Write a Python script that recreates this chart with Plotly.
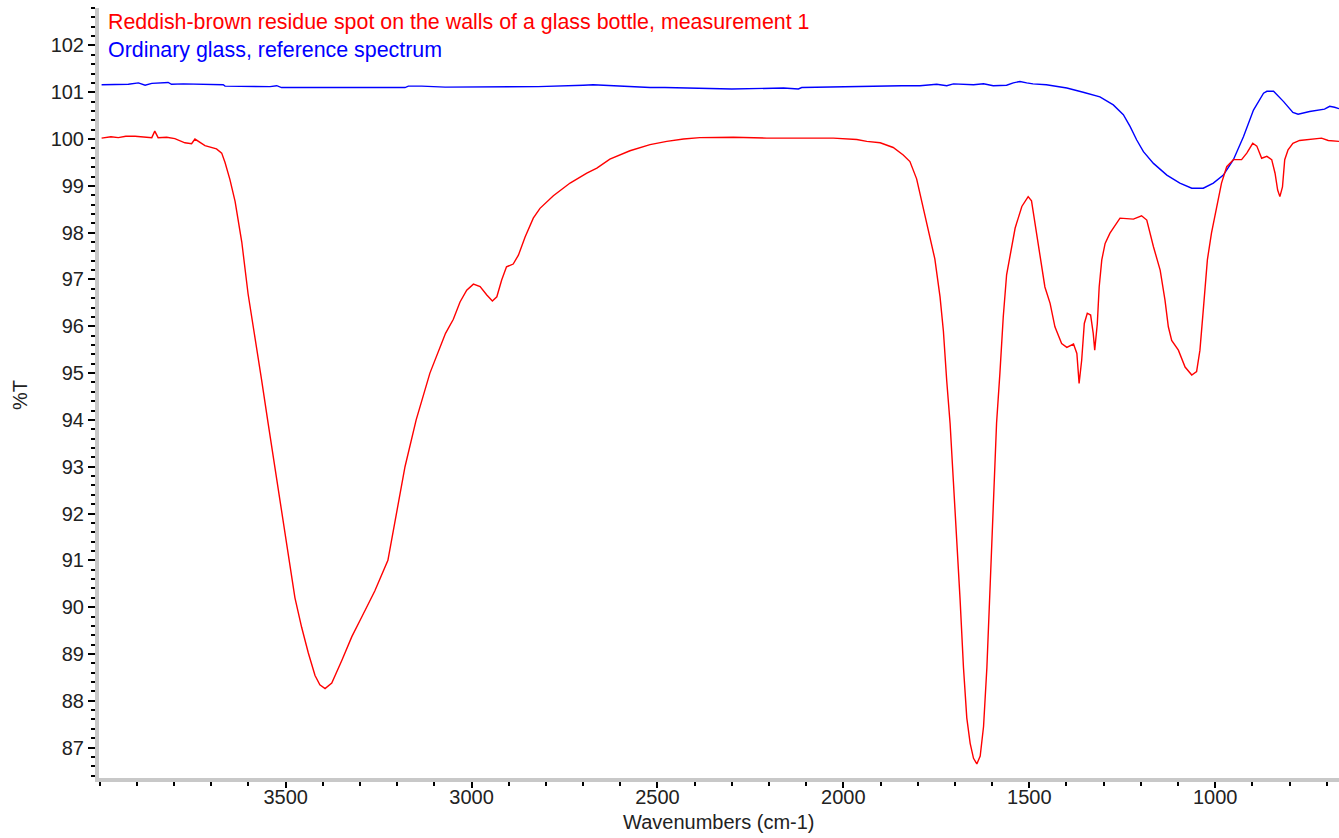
import plotly.graph_objects as go

# Reddish-brown residue spectrum (wavenumber cm-1, %T)
red_wn = [3995, 3970, 3950, 3930, 3905, 3880, 3860, 3852, 3843, 3820, 3798, 3771, 3753, 3744, 3717,
          3686, 3672, 3663, 3650, 3636, 3618, 3601, 3583, 3565, 3547, 3529, 3511, 3493, 3475, 3457,
          3439, 3421, 3408, 3394, 3376, 3349, 3322, 3296, 3260, 3225, 3203, 3179, 3149, 3112, 3070,
          3049, 3031, 3013, 2995, 2977, 2959, 2944, 2932, 2919, 2906, 2888, 2874, 2856, 2834,
          2816, 2780, 2735, 2690, 2663, 2628, 2601, 2574, 2520, 2475, 2430, 2386, 2296, 2206, 2117,
          2027, 1964, 1937, 1901, 1866, 1839, 1821, 1803, 1785, 1767, 1754, 1740, 1731, 1722, 1713,
          1704, 1695, 1686, 1677, 1668, 1659, 1650, 1641, 1632, 1623, 1614, 1605, 1597, 1588, 1579,
          1570, 1561, 1552, 1538, 1520, 1503, 1494, 1485, 1471, 1458, 1444, 1431, 1413, 1399, 1381,
          1372, 1366, 1359, 1352, 1344, 1335, 1328, 1324, 1317, 1312, 1305, 1296, 1283, 1256, 1220,
          1198, 1184, 1166, 1148, 1135, 1126, 1117, 1099, 1081, 1063, 1050, 1041, 1032, 1021, 1010,
          996, 983, 969, 951, 929, 915, 899, 888, 875, 861, 848, 839, 832, 826, 819,
          813, 804, 791, 773, 746, 714, 696, 667]
red_t = [100.02, 100.05, 100.03, 100.06, 100.06, 100.04, 100.03, 100.17, 100.03, 100.04, 100.01, 99.92, 99.90, 100.00, 99.86,
         99.79, 99.70, 99.50, 99.14, 98.67, 97.80, 96.69, 95.82, 94.87, 93.92, 92.97, 92.02, 91.07, 90.20, 89.57,
         89.02, 88.54, 88.34, 88.26, 88.38, 88.86, 89.37, 89.78, 90.35, 91.00, 91.95, 93.00, 94.00, 95.00, 95.85,
         96.15, 96.52, 96.77, 96.90, 96.85, 96.67, 96.54, 96.63, 96.99, 97.27, 97.33, 97.52, 97.91, 98.31,
         98.52, 98.79, 99.06, 99.27, 99.38, 99.57, 99.66, 99.75, 99.88, 99.95, 100.00, 100.03, 100.04, 100.02, 100.02,
         100.02, 99.99, 99.95, 99.92, 99.82, 99.66, 99.52, 99.15, 98.54, 97.95, 97.44, 96.63, 95.90, 94.83, 93.93,
         92.67, 91.50, 90.15, 88.71, 87.63, 87.09, 86.77, 86.65, 86.82, 87.45, 88.71, 90.51, 92.31, 93.93, 95.00,
         96.20, 97.10, 97.50, 98.10, 98.56, 98.77, 98.68, 98.22, 97.47, 96.84, 96.49, 95.99, 95.63, 95.55, 95.62,
         95.42, 94.78, 95.28, 96.06, 96.28, 96.24, 95.85, 95.49, 96.06, 96.84, 97.42, 97.77, 97.99, 98.31, 98.29,
         98.36, 98.27, 97.70, 97.20, 96.56, 95.99, 95.70, 95.49, 95.13, 94.96, 95.03, 95.49, 96.35, 97.42, 97.99,
         98.56, 99.06, 99.41, 99.56, 99.56, 99.70, 99.91, 99.85, 99.59, 99.63, 99.56, 99.27, 98.91, 98.77, 98.98,
         99.56, 99.77, 99.91, 99.97, 100.00, 100.02, 99.97, 99.95]

# Ordinary glass reference spectrum
blue_wn = [3995, 3923, 3896, 3878, 3860, 3834, 3816, 3807, 3775, 3668, 3663, 3542, 3524, 3511, 3439,
           3421, 3417, 3179, 3170, 3134, 3071, 2821, 2749, 2699, 2673, 2632, 2520, 2480, 2300, 2161,
           2121, 2112, 1996, 1973, 1843, 1794, 1749, 1722, 1704, 1650, 1623, 1597, 1561, 1543, 1525,
           1507, 1490, 1454, 1418, 1399, 1355, 1310, 1274, 1247, 1229, 1211, 1193, 1166, 1130, 1095,
           1063, 1032, 1005, 978, 951, 924, 897, 870, 861, 843, 816, 791, 777, 746, 706,
           692, 679, 667]
blue_t = [101.16, 101.17, 101.20, 101.15, 101.19, 101.21, 101.21, 101.17, 101.18, 101.16, 101.13, 101.12, 101.14, 101.10, 101.09,
          101.09, 101.10, 101.10, 101.13, 101.13, 101.11, 101.12, 101.13, 101.15, 101.16, 101.14, 101.10, 101.10, 101.07, 101.09,
          101.07, 101.10, 101.12, 101.13, 101.14, 101.14, 101.17, 101.14, 101.18, 101.16, 101.18, 101.14, 101.15, 101.20, 101.23,
          101.20, 101.18, 101.16, 101.11, 101.09, 101.00, 100.90, 100.73, 100.52, 100.27, 99.98, 99.73, 99.48, 99.23, 99.06,
          98.95, 98.95, 99.06, 99.23, 99.56, 100.05, 100.62, 100.98, 101.02, 101.02, 100.80, 100.57, 100.53, 100.59, 100.64,
          100.70, 100.68, 100.65]

x_tick_vals = [3500, 3000, 2500, 2000, 1500, 1000]
red_name = "Reddish-brown residue spot on the walls of a glass bottle, measurement 1"
blue_name = "Ordinary glass, reference spectrum"
x_title = "Wavenumbers (cm-1)"
y_title = "%T"

FONT = "Liberation Sans, Arial, sans-serif"
fig = go.Figure()
fig.add_trace(go.Scatter(x=blue_wn, y=blue_t, mode="lines", name=blue_name,
                         line=dict(color="#0000ff", width=1.4)))
fig.add_trace(go.Scatter(x=red_wn, y=red_t, mode="lines", name=red_name,
                         line=dict(color="#ff0000", width=1.4)))

axis_common = dict(showgrid=False, zeroline=False, showline=True, linecolor="#c8c8c8",
                   linewidth=4, ticks="outside", tickcolor="#000000", tickwidth=1.5,
                   tickfont=dict(family=FONT, size=20, color="#222222"))
fig.update_xaxes(range=[4002, 667], tickmode="array", tickvals=x_tick_vals, ticklen=6,
                 ticklabelstandoff=-8,
                 minor=dict(dtick=100, tick0=0, ticklen=4, tickcolor="#000000", ticks="outside", tickwidth=1.5),
                 **axis_common)
fig.update_yaxes(range=[86.35, 102.8], dtick=1, tick0=0, ticklen=7,
                 minor=dict(dtick=0.2, ticklen=4, tickcolor="#000000", ticks="outside", tickwidth=1.5),
                 **axis_common)

annots = [
    dict(text=red_name, x=0.0056, y=0.9818, font=dict(color="#ff0000", size=21.4, family=FONT)),
    dict(text=blue_name, x=0.0056, y=0.9455, font=dict(color="#0000ff", size=21.4, family=FONT)),
]
for a in annots:
    fig.add_annotation(xref="paper", yref="paper", xanchor="left", yanchor="middle",
                       showarrow=False, **a)
fig.add_annotation(text=y_title, xref="paper", yref="paper", x=-0.0637, y=0.4974,
                   xanchor="center", yanchor="middle", textangle=-90, showarrow=False,
                   font=dict(family=FONT, size=20, color="#222222"))
fig.add_annotation(text=x_title, xref="paper", yref="paper", x=0.5, y=-0.0571,
                   xanchor="center", yanchor="middle", showarrow=False,
                   font=dict(family=FONT, size=20, color="#222222"))

fig.update_layout(width=1339, height=838, margin=dict(l=99, r=0, t=8, b=60),
                  paper_bgcolor="white", plot_bgcolor="white", showlegend=False)
fig.write_html("out.html")
